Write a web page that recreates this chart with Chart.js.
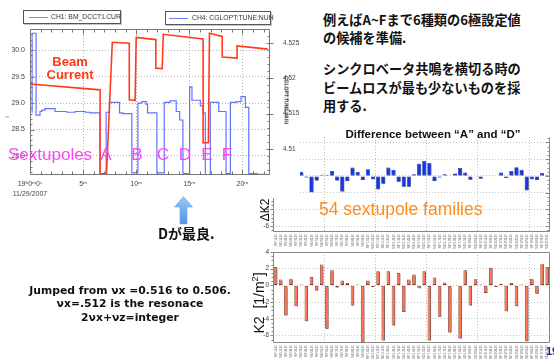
<!DOCTYPE html>
<html>
<head>
<meta charset="utf-8">
<script src="https://cdn.jsdelivr.net/npm/chart.js@4.4.1/dist/chart.umd.min.js"></script>
<style>
  html, body { margin: 0; padding: 0; background: #fff; }
  #slide { position: relative; width: 554px; height: 359px; overflow: hidden; background: #fff;
           font-family: "Liberation Sans", Arial, sans-serif; }
  .abs { position: absolute; white-space: nowrap; }
  canvas { display: block; }
  .jp { font-family: "Noto Sans CJK JP", sans-serif; font-weight: 700; font-size: 13.2px; line-height: 18px; color: #111; }
  .legend { border: 1px solid #555; background: #fff; box-shadow: 1px 1px 0 #c8c8c8; }
  .legend .sw { position: absolute; top: 6px; width: 19px; height: 1px; }
  .legend .lt { position: absolute; top: 2px; font-size: 6.8px; line-height: 8px; color: #333; }
  .mag { font-size: 17px; line-height: 17px; color: #ff45f5; }
  .rot { transform: translate(-50%, -50%) rotate(-90deg); }
</style>
</head>
<body>
<div id="slide">
  <!-- K2 per sextupole family -->
  <canvas id="k2Chart" class="abs" width="314" height="119" style="left:240px;top:240px"></canvas>
  <!-- change of K2 between settings A and D -->
  <canvas id="dk2Chart" class="abs" width="314" height="132" style="left:240px;top:120px"></canvas>

  <!-- notes block (top right) -->
  <div class="abs" style="left:300px;top:0;width:254px;height:127px;background:#fff"></div>
  <div class="abs jp" style="left:323px;top:11px">例えばA~Fまで6種類の6極設定値</div>
  <div class="abs jp" style="left:323px;top:29.4px">の候補を準備.</div>
  <div class="abs jp" style="left:323px;top:60.2px">シンクロベータ共鳴を横切る時の</div>
  <div class="abs jp" style="left:323px;top:78.7px">ビームロスが最も少ないものを採</div>
  <div class="abs jp" style="left:323px;top:96.7px">用する.</div>

  <div class="abs" style="left:433px;top:128.8px;transform:translateX(-50%);font-weight:700;font-size:11.5px;line-height:11.5px;color:#111">Difference between “A” and “D”</div>
  <div class="abs" style="left:319px;top:201px;font-size:17.5px;line-height:17.5px;color:#ff8a1e">54 sextupole families</div>
  <div class="abs rot" style="left:265px;top:210px;font-size:12px;line-height:12px;color:#111">ΔK2</div>
  <div class="abs rot" style="left:259px;top:303px;font-size:14px;line-height:14px;color:#111">K2&nbsp;&nbsp;[1/m<sup style="font-size:9px;line-height:0">2</sup>]</div>

  <!-- beam current and tune trend -->
  <canvas id="trendChart" class="abs" width="300" height="198" style="left:0;top:0;background:#fff"></canvas>
  <div class="abs legend" style="left:23px;top:10px;width:96px;height:12px">
    <span class="sw" style="left:5px;background:#ff6a4c"></span>
    <span class="lt" style="left:27px">CH1: BM_DCCT:LCUR</span>
  </div>
  <div class="abs legend" style="left:165px;top:11px;width:104px;height:12px">
    <span class="sw" style="left:3px;background:#7080ff"></span>
    <span class="lt" style="left:26px">CH4: CGLOPT:TUNE:NUH</span>
  </div>
  <div class="abs" style="left:286px;top:100px;transform:translate(-50%,-50%) rotate(90deg);font-size:5px;line-height:5px;font-weight:700;color:#222">CGLOPT:TUNE:NUH</div>
  <div class="abs rot" style="left:7px;top:117px;font-size:6px;line-height:6px;color:#555">I</div>

  <div class="abs" style="left:70px;top:54.5px;transform:translateX(-50%);text-align:center;font-weight:700;font-size:13px;line-height:13.5px;color:#ff3a14">Beam<br>Current</div>

  <div class="abs mag" style="left:8px;top:146px">Sextupoles</div>
  <div class="abs mag" style="left:106px;top:146px;transform:translateX(-50%)">A</div>
  <div class="abs mag" style="left:137px;top:146px;transform:translateX(-50%)">B</div>
  <div class="abs mag" style="left:163px;top:146px;transform:translateX(-50%)">C</div>
  <div class="abs mag" style="left:185px;top:146px;transform:translateX(-50%)">D</div>
  <div class="abs mag" style="left:207px;top:146px;transform:translateX(-50%)">E</div>
  <div class="abs mag" style="left:227px;top:146px;transform:translateX(-50%)">F</div>

  <!-- pointer to the chosen setting -->
  <svg class="abs" style="left:172px;top:195px" width="24" height="31" viewBox="0 0 24 31">
    <defs>
      <linearGradient id="arrowFill" x1="0" y1="0" x2="0" y2="1">
        <stop offset="0" stop-color="#9cc8f7"/>
        <stop offset="1" stop-color="#4f93e8"/>
      </linearGradient>
    </defs>
    <polygon points="11.5,1.5 20.5,12 15,12 15,29 8,29 8,12 2.5,12" fill="url(#arrowFill)" stroke="#6aa6ee" stroke-width="0.6"/>
  </svg>
  <div class="abs" style="left:158px;top:225px;font-family:'Noto Sans CJK JP',sans-serif;font-weight:700;font-size:14px;line-height:16px;color:#111">Dが最良.</div>

  <div class="abs" style="left:0;top:283.5px;width:260px;text-align:center;font-family:'DejaVu Sans',sans-serif;font-weight:700;font-size:10.8px;line-height:13.5px;color:#111">
    Jumped from νx =0.516 to 0.506.<br>νx=.512 is the resonace<br>2νx+νz=integer
  </div>

  <div class="abs" style="left:546px;top:345.5px;font-weight:700;font-size:11px;line-height:11px;color:#1d2a8a">19</div>
</div>

<script>
// ---- beam current (CH1) vs. minutes after 19:00:00 ----
const currentTimes  = [0, 6.6, 6.6, 7.2, 7.75, 9.35, 9.35, 9.9, 10.0, 11.85, 11.85, 12.45, 12.55, 16.3, 16.3, 16.8, 16.9, 18.1, 18.1, 19.5, 19.5, 22.4];
const currentValues = [29.36, 29.25, 27.66, 27.66, 30.15, 30.13, 29.06, 29.05, 30.24, 30.20, 29.66, 29.65, 30.30, 30.21, 28.25, 28.25, 30.32, 30.26, 29.87, 29.85, 30.08, 30.02];

// ---- horizontal tune (CH4), each value held until the next time ----
const tuneTimes  = [0.16, 0.2, 0.57, 0.94, 1.1, 1.42, 2.36, 3.46, 4.25, 5.19,
                    5.66, 6.6, 7.17, 7.48, 8.43, 8.74, 9.59, 10.16, 10.53, 10.94,
                    11.07, 11.95, 12.64, 13.2, 13.77, 14.09, 14.4, 15.03, 15.25, 16.04,
                    16.29, 16.51, 16.98, 17.77, 18.46, 18.87, 19.43, 19.87, 20.28, 20.6,
                    21.38, 22.17];
const tuneValues = [4.5152, 4.5264, 4.5148, 4.5153, 4.5155, 4.5157, 4.5153, 4.5152, 4.5153, 4.5152,
                    4.5151, 4.5065, 4.5152, 4.5166, 4.5151, 4.5150, 4.5066, 4.5165, 4.5167, 4.5163,
                    4.5151, 4.5066, 4.5166, 4.5168, 4.5153, 4.5141, 4.5065, 4.5188, 4.5169, 4.5161,
                    4.5151, 4.5063, 4.5166, 4.5153, 4.5065, 4.5166, 4.5167, 4.5174, 4.5159, 4.5065,
                    4.5064, 4.5064];

// ---- sextupole families ----
const families = ['SF1LE','SD1LE','SF2LE','SD2LE','SF3LE','SD3LE','SF4LE','SD4LE','SF5LE','SD5LE',
                  'SF6LE','SD6LE','SF7LE','SD7LE','SF8LE','SD8LE','SF9LE','SD9LE','SF10LE','SD10LE',
                  'SF11LE','SD11LE','SF12LE','SD12LE','SF13LE','SD13LE','SF14LE','SD14LE','SF15LE','SD15LE',
                  'SF16LE','SD16LE','SF17LE','SD17LE','SF18LE','SD18LE','SF19LE','SD19LE','SF20LE','SD20LE',
                  'SF21LE','SD21LE','SF22LE','SD22LE','SF23LE','SD23LE','SF24LE','SD24LE','SF25LE','SD25LE',
                  'SF26LE','SD26LE','SF27LE','SD27LE'];

// K2 of each family [1/m^2]
const k2Values = [2.2, 0.7, -3.6, 0.8, -2.5, 0.1, -4.3, 1.0, -0.6, 2.5,
                  -5.2, 1.8, -0.25, 0.6, 0.3, -2.4, 0.1, -6.85, 0.6, -0.2,
                  1.7, -6.6, 1.7, -4.8, 1.5, -3.2, 0.7, 1.3, -0.35, 1.7,
                  -6.6, 0.95, -3.75, 0.35, -5.65, 0.05, -6.35, 1.8, -2.4, 0.75,
                  0.1, -0.9, 2.1, -0.2, 0.2, -3.1, 0.3, -2.5, 0.1, -6.7,
                  0.8, -1.0, 2.6, 2.2];

// ΔK2 between setting A and setting D
const dk2Values = [0.4, -0.3, 0.9, -1.1, 0.2, 0.5, -0.2, -1.95, -0.55, 0.15,
                   0.15, 0.6, -0.55, -1.85, -0.6, 1.0, 0.5, -0.5, 0.8, -0.4,
                   -1.6, -0.95, 1.0, 0.75, -0.7, -1.3, -1.3, 0.2, 1.45, 1.8,
                   1.55, -0.6, -0.2, 0.2, 0.05, 0.3, 0.95, 0.4, -0.45, -0.1,
                   -0.35, 0.05, 0.05, 0.05, 0.4, -0.25, 0.6, 1.05, 0.75, -1.7,
                   -0.4, -0.5, 0.35, 0.15];

Chart.defaults.font.family = '"Liberation Sans", Arial, sans-serif';
Chart.defaults.color = '#444';

const isMultiple = (x, n) => ((x % n) + n) % n === 0;

// plot frame plus inward/outward tick marks along chosen edges
const frameTicks = {
  id: 'frameTicks',
  afterDraw(chart, args, o) {
    const ctx = chart.ctx, a = chart.chartArea;
    const L = Math.round(a.left) + 0.5, R = Math.round(a.right) - 0.5;
    const T = Math.round(a.top) + 0.5, B = Math.round(a.bottom) - 0.5;
    ctx.save();
    ctx.strokeStyle = o.color;
    ctx.lineWidth = 1;
    ctx.beginPath();
    if (o.sides.includes('top'))    { ctx.moveTo(L, T); ctx.lineTo(R, T); }
    if (o.sides.includes('bottom')) { ctx.moveTo(L, B); ctx.lineTo(R, B); }
    if (o.sides.includes('left'))   { ctx.moveTo(L, T); ctx.lineTo(L, B); }
    if (o.sides.includes('right'))  { ctx.moveTo(R, T); ctx.lineTo(R, B); }
    ctx.stroke();
    ctx.beginPath();
    for (const m of o.marks) {
      const sc = chart.scales[m.scale];
      const horiz = sc.isHorizontal();
      for (let k = 0; k < m.count; k++) {
        const v = m.start + k * m.step;
        const raw = sc.getPixelForValue(v);
        if (horiz ? (raw < a.left - 0.5 || raw > a.right + 0.5) : (raw < a.top - 0.5 || raw > a.bottom + 0.5)) continue;
        const p = Math.round(raw) + 0.5;
        const major = isMultiple(Math.round((v - m.majorBase) / m.step), m.majorEvery);
        for (const e of m.edges) {
          const [inL, outL] = major ? e.major : e.minor;
          if (e.side === 'bottom') { ctx.moveTo(p, B + outL); ctx.lineTo(p, B - inL); }
          if (e.side === 'top')    { ctx.moveTo(p, T - outL); ctx.lineTo(p, T + inL); }
          if (e.side === 'left')   { ctx.moveTo(L - outL, p); ctx.lineTo(L + inL, p); }
          if (e.side === 'right')  { ctx.moveTo(R + outL, p); ctx.lineTo(R - inL, p); }
        }
      }
    }
    ctx.stroke();
    ctx.restore();
  }
};

// soft grey drop shadow behind the bars
const barShadow = {
  id: 'barShadow',
  beforeDatasetsDraw(chart, args, o) {
    const c = chart.ctx;
    c.save();
    c.shadowColor = o.color;
    c.shadowOffsetX = o.dx;
    c.shadowOffsetY = o.dy;
    c.shadowBlur = o.blur;
  },
  afterDatasetsDraw(chart) { chart.ctx.restore(); }
};

const timeLabel = v => {
  const m = Math.round(v);
  if (Math.abs(v - m) > 1e-6 || !isMultiple(m, 5)) return '';
  if (m === 0) return ['19ʰ0ᵐ0ˢ', '11/29/2007'];
  return m + 'ᵐ';
};

new Chart(document.getElementById('trendChart'), {
  type: 'line',
  data: {
    datasets: [
      {
        label: 'CH1: BM_DCCT:LCUR',
        data: currentTimes.map((t, i) => ({ x: t, y: currentValues[i] })),
        borderColor: '#ff3b1c', borderWidth: 1.6, pointRadius: 0, tension: 0, yAxisID: 'yI'
      },
      {
        label: 'CH4: CGLOPT:TUNE:NUH',
        data: tuneTimes.map((t, i) => ({ x: t, y: tuneValues[i] })),
        borderColor: '#6274ff', borderWidth: 1.2, pointRadius: 0, stepped: 'before', yAxisID: 'yNu'
      }
    ]
  },
  options: {
    animation: false, responsive: false, devicePixelRatio: 1, events: [],
    layout: { padding: { top: 29, left: 0, right: 0, bottom: 0 } },
    plugins: {
      legend: { display: false }, tooltip: { enabled: false },
      frameTicks: {
        color: '#777', sides: ['top', 'bottom', 'left', 'right'],
        marks: [
          { scale: 'x', start: 0, step: 1, count: 23, majorBase: 0, majorEvery: 5,
            edges: [{ side: 'bottom', minor: [3, 0], major: [5, 0] }, { side: 'top', minor: [3, 0], major: [5, 0] }] },
          { scale: 'yI', start: 27.7, step: 0.1, count: 27, majorBase: 28, majorEvery: 5,
            edges: [{ side: 'left', minor: [2, 0], major: [4, 0] }] },
          { scale: 'yNu', start: 4.507, step: 0.001, count: 20, majorBase: 4.51, majorEvery: 5,
            edges: [{ side: 'right', minor: [2, 0], major: [3, 4] }] }
        ]
      }
    },
    scales: {
      x: {
        type: 'linear', min: 0, max: 22.6,
        afterFit: s => { s.height = 23; },
        ticks: { stepSize: 1, includeBounds: false, autoSkip: false, maxRotation: 0, padding: 4,
                 color: '#444', font: { size: 7, lineHeight: 1.45 }, callback: timeLabel },
        grid: { drawTicks: false, lineWidth: 1,
                color: c => (c.tick && c.tick.value > 0.5 && timeLabel(c.tick.value) !== '') ? 'rgba(0,0,0,0.3)' : 'rgba(0,0,0,0)' },
        border: { display: false, dash: [1, 2] }
      },
      yI: {
        type: 'linear', position: 'left', min: 27.64, max: 30.40,
        afterFit: s => { s.width = 30; },
        ticks: { stepSize: 0.5, includeBounds: false, padding: 5, color: '#444', font: { size: 7 } },
        grid: { drawTicks: false, color: 'rgba(0,0,0,0.3)' },
        border: { display: false, dash: [1, 2] }
      },
      yNu: {
        type: 'linear', position: 'right', min: 4.5063, max: 4.5270,
        afterFit: s => { s.width = 30; },
        ticks: { stepSize: 0.005, includeBounds: false, padding: 5, color: '#444', font: { size: 6.5 },
                 callback: v => String(+v.toFixed(3)) },
        grid: { display: false },
        border: { display: false }
      }
    }
  },
  plugins: [frameTicks]
});

const familyAxis = (height) => ({
  type: 'category',
  afterFit: s => { s.height = height; },
  ticks: { autoSkip: false, minRotation: 90, maxRotation: 90, padding: 2, color: '#777', font: { size: 4 } },
  grid: { drawTicks: false, offset: true,
          color: c => (c.index > 0 && c.index < families.length && c.index % 10 === 0) ? 'rgba(0,0,0,0.25)' : 'rgba(0,0,0,0)' },
  border: { display: false, dash: [1, 2] }
});

new Chart(document.getElementById('dk2Chart'), {
  type: 'bar',
  data: {
    labels: families,
    datasets: [{
      data: dk2Values, backgroundColor: '#1436e8', borderColor: '#0b1f9a', borderWidth: 0.6,
      borderSkipped: false, barPercentage: 0.8, categoryPercentage: 1
    }]
  },
  options: {
    animation: false, responsive: false, devicePixelRatio: 1, events: [],
    layout: { padding: { top: 17, right: 3, left: 0, bottom: 0 } },
    plugins: {
      legend: { display: false }, tooltip: { enabled: false },
      barShadow: { color: 'rgba(90,90,90,0.75)', dx: 1.2, dy: 1.2, blur: 0.5 },
      frameTicks: {
        color: '#888', sides: ['left', 'right', 'bottom'],
        marks: [
          { scale: 'y', start: -6.5, step: 0.5, count: 23, majorBase: 0, majorEvery: 4,
            edges: [{ side: 'left', minor: [0, 2], major: [0, 3] }, { side: 'right', minor: [2, 0], major: [4, 0] }] }
        ]
      }
    },
    scales: {
      x: familyAxis(20),
      y: {
        min: -6.7, max: 4.65,
        afterFit: s => { s.width = 33; },
        ticks: { stepSize: 2, includeBounds: false, padding: 4, color: '#444', font: { size: 6.5 } },
        grid: { drawTicks: false, color: 'rgba(0,0,0,0.22)' },
        border: { display: false, dash: [1, 2] }
      }
    }
  },
  plugins: [barShadow, frameTicks]
});

new Chart(document.getElementById('k2Chart'), {
  type: 'bar',
  data: {
    labels: families,
    datasets: [{
      data: k2Values, backgroundColor: '#ff7452', borderColor: '#8a3322', borderWidth: 0.8,
      borderSkipped: false, barPercentage: 0.68, categoryPercentage: 1
    }]
  },
  options: {
    animation: false, responsive: false, devicePixelRatio: 1, events: [],
    layout: { padding: { top: 12, right: 2, left: 0, bottom: 0 } },
    plugins: {
      legend: { display: false }, tooltip: { enabled: false },
      barShadow: { color: 'rgba(90,90,90,0.7)', dx: 1.3, dy: 1.3, blur: 0.5 },
      frameTicks: {
        color: '#888', sides: ['top', 'left', 'right', 'bottom'],
        marks: [
          { scale: 'y', start: -6.5, step: 0.5, count: 22, majorBase: 0, majorEvery: 4,
            edges: [{ side: 'left', minor: [0, 2], major: [0, 3] }] }
        ]
      }
    },
    scales: {
      x: familyAxis(16),
      y: {
        min: -6.9, max: 4,
        afterFit: s => { s.width = 33; },
        ticks: { stepSize: 2, includeBounds: false, padding: 4, color: '#444', font: { size: 6.5 } },
        grid: { drawTicks: false, color: 'rgba(0,0,0,0.22)' },
        border: { display: false, dash: [1, 2] }
      }
    }
  },
  plugins: [barShadow, frameTicks]
});
</script>
</body>
</html>
